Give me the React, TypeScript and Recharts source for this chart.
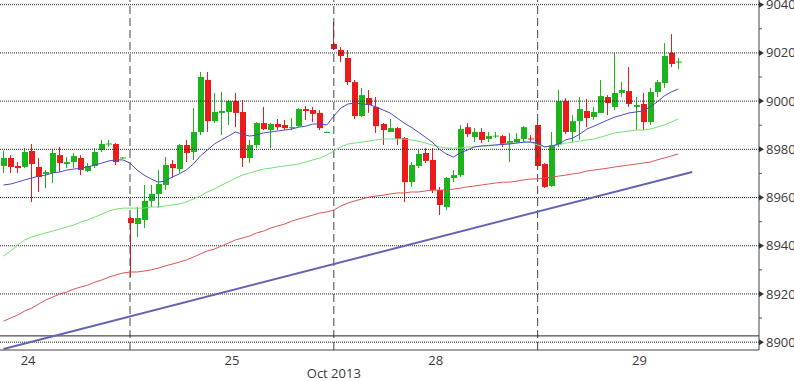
import React from 'react';
import { ComposedChart, Bar, Line, XAxis, YAxis, ReferenceLine } from 'recharts';

// hourly candles, 108 slots on the axis, the last ones are empty
const SLOTS = 108;

const OPEN = [
  8973.1, 8976.4, 8973.1, 8972.7, 8979.3, 8972.7, 8969.8, 8970.2, 8977.6, 8973.9,
  8974.7, 8976.4, 8971.0, 8973.1, 8979.7, 8982.2, 8982.2, 8976.4, 8951.5, 8949.0,
  8950.7, 8958.6, 8961.5, 8965.2, 8973.9, 8971.8, 8981.8, 8978.9, 8987.2, 9008.8,
  8991.7, 8995.1, 8995.5, 9000.0, 8995.5, 8976.4, 8981.8, 8990.9, 8988.0, 8990.5,
  8990.1, 8989.0, 8989.6, 8996.7, 8996.3, 8995.1, 8987.0, 9023.7, 9021.2, 9017.9,
  9007.9, 8993.8, 9001.3, 8997.6, 8990.5, 8987.2, 8988.8, 8984.7, 8966.4, 8973.1,
  8978.5, 8975.6, 8963.1, 8956.1, 8968.1, 8969.3, 8989.2, 8985.1, 8987.2, 8984.3,
  8985.5, 8985.5, 8982.2, 8983.0, 8984.3, 8984.5, 8990.1, 8973.9, 8964.8, 8982.2,
  9000.0, 8987.2, 8991.7, 8995.9, 8993.4, 8995.1, 9001.7, 8997.6, 9003.4, 9004.2,
  8997.6, 8998.8, 8991.3, 9003.8, 9007.5, 9020.0, 9016.2,
];
const HIGH = [
  8979.5, 8977.6, 8974.7, 8980.5, 8982.2, 8976.4, 8971.4, 8979.7, 8981.0, 8976.8,
  8978.5, 8977.6, 8974.3, 8980.5, 8983.9, 8983.9, 8982.6, 8976.8, 8952.0, 8956.1,
  8965.2, 8965.2, 8971.4, 8976.8, 8975.6, 8982.2, 8983.9, 8997.1, 9012.1, 9012.1,
  9003.4, 9003.8, 9000.5, 9003.4, 9000.5, 8983.9, 8991.3, 8997.6, 8990.9, 8992.6,
  8992.2, 8993.0, 8997.1, 8998.0, 8997.6, 8996.3, 8987.4, 9032.8, 9022.4, 9021.2,
  9008.8, 9005.5, 9004.6, 9001.7, 8990.9, 8992.6, 8989.2, 8985.1, 8974.7, 8979.7,
  8980.5, 8980.5, 8964.4, 8968.5, 8971.4, 8990.1, 8990.9, 8988.8, 8988.8, 8987.2,
  8987.2, 8985.9, 8986.8, 8986.8, 8989.6, 8985.9, 8991.3, 8974.3, 8987.2, 9004.6,
  9001.3, 8994.2, 9001.7, 9000.9, 8997.6, 9008.8, 9002.5, 9020.0, 9007.9, 9014.1,
  9001.7, 9003.4, 9005.5, 9008.8, 9024.1, 9027.8, 9017.9,
];
const LOW = [
  8970.2, 8970.2, 8970.2, 8972.2, 8958.1, 8962.3, 8963.9, 8966.0, 8970.6, 8972.2,
  8972.2, 8969.3, 8970.6, 8972.2, 8978.9, 8981.0, 8973.5, 8976.2, 8927.0, 8943.6,
  8947.3, 8956.1, 8955.6, 8963.1, 8968.1, 8970.2, 8974.7, 8975.6, 8985.9, 8987.2,
  8990.9, 8985.9, 8990.1, 8989.2, 8972.7, 8974.3, 8980.5, 8988.0, 8980.5, 8988.0,
  8988.0, 8988.0, 8989.2, 8992.2, 8991.3, 8988.0, 8986.8, 9021.2, 9016.2, 9006.7,
  8992.6, 8993.4, 8995.1, 8986.8, 8981.8, 8987.2, 8981.8, 8958.1, 8964.4, 8972.2,
  8974.3, 8961.9, 8952.7, 8954.8, 8966.4, 8968.5, 8985.1, 8983.0, 8982.6, 8983.0,
  8984.7, 8981.0, 8974.7, 8982.6, 8983.0, 8983.0, 8972.7, 8963.9, 8964.4, 8981.0,
  8986.3, 8983.0, 8983.9, 8989.2, 8992.2, 8995.1, 8994.2, 8996.3, 9001.7, 8997.6,
  8988.0, 8988.0, 8990.1, 9001.7, 9005.5, 9014.1, 9013.3,
];
const CLOSE = [
  8976.4, 8972.7, 8972.2, 8978.9, 8973.9, 8968.5, 8970.6, 8978.5, 8974.3, 8974.7,
  8977.2, 8971.4, 8973.1, 8978.9, 8982.2, 8982.4, 8974.7, 8976.6, 8949.4, 8951.5,
  8958.6, 8961.5, 8965.6, 8973.5, 8972.2, 8981.8, 8978.5, 8987.2, 9010.0, 8991.7,
  8995.5, 8995.9, 9000.0, 8995.1, 8976.4, 8981.8, 8990.9, 8988.4, 8990.5, 8989.2,
  8988.8, 8989.2, 8996.7, 8995.9, 8994.7, 8988.8, 8987.2, 9021.6, 9018.7, 9007.9,
  8993.8, 9002.5, 8998.4, 8989.6, 8988.0, 8988.8, 8984.3, 8966.4, 8973.5, 8978.1,
  8975.2, 8963.1, 8956.9, 8968.1, 8969.3, 8988.4, 8986.3, 8987.2, 8983.9, 8985.5,
  8985.7, 8982.2, 8983.4, 8984.3, 8989.2, 8984.3, 8973.1, 8964.4, 8981.8, 9000.0,
  8987.2, 8991.7, 8996.7, 8993.0, 8995.5, 9002.1, 8999.2, 9003.4, 9004.6, 8998.8,
  8998.4, 8991.3, 9003.8, 9007.9, 9018.7, 9015.4, 9016.4,
];

// moving averages
const MA_FAST = [
  8965.2, 8965.6, 8966.4, 8967.3, 8968.1, 8968.9, 8969.3, 8970.2, 8970.6, 8971.4,
  8971.8, 8972.2, 8972.7, 8973.5, 8974.3, 8975.2, 8975.6, 8975.6, 8974.3, 8971.4,
  8969.3, 8967.7, 8966.4, 8966.8, 8968.5, 8969.8, 8971.4, 8973.9, 8977.2, 8979.7,
  8982.2, 8983.9, 8985.5, 8987.2, 8986.3, 8985.5, 8985.9, 8986.8, 8987.2, 8987.6,
  8988.0, 8988.4, 8989.2, 8989.6, 8990.5, 8990.5, 8990.1, 8993.8, 8997.1, 8998.8,
  8999.2, 8998.8, 8998.6, 8997.6, 8996.3, 8995.1, 8993.0, 8990.9, 8989.2, 8987.2,
  8985.1, 8983.0, 8980.1, 8978.1, 8976.8, 8978.5, 8979.7, 8981.0, 8981.4, 8981.6,
  8981.8, 8982.0, 8982.2, 8982.6, 8983.0, 8983.0, 8982.6, 8981.0, 8981.4, 8982.2,
  8983.9, 8984.7, 8986.3, 8988.4, 8989.6, 8990.9, 8992.2, 8993.4, 8994.2, 8995.1,
  8995.5, 8995.9, 8997.6, 8999.6, 9002.1, 9003.8, 9005.0,
];
const MA_MID = [
  8935.7, 8937.8, 8940.3, 8942.4, 8943.6, 8944.5, 8945.3, 8946.1, 8946.9, 8947.8,
  8948.6, 8949.8, 8950.7, 8951.9, 8953.1, 8954.4, 8955.2, 8955.6, 8955.6, 8955.6,
  8955.6, 8956.1, 8956.1, 8956.5, 8956.9, 8957.3, 8958.1, 8959.4, 8960.6, 8962.3,
  8963.5, 8965.2, 8966.4, 8968.1, 8969.3, 8970.2, 8971.0, 8971.8, 8972.2, 8972.7,
  8973.1, 8973.5, 8973.9, 8974.7, 8975.6, 8976.4, 8977.6, 8979.3, 8981.0, 8982.2,
  8982.6, 8983.0, 8983.4, 8983.9, 8984.3, 8984.3, 8984.3, 8984.3, 8983.9, 8983.4,
  8982.6, 8981.8, 8981.0, 8980.5, 8980.5, 8980.5, 8981.0, 8981.0, 8981.4, 8981.4,
  8981.8, 8982.2, 8982.6, 8982.6, 8983.0, 8983.0, 8981.8, 8981.0, 8981.4, 8981.8,
  8982.6, 8983.0, 8983.4, 8983.9, 8984.3, 8985.1, 8985.9, 8986.8, 8987.2, 8987.6,
  8988.0, 8988.0, 8988.4, 8989.2, 8990.1, 8991.3, 8992.6,
];
const MA_SLOW = [
  8908.7, 8910.0, 8911.2, 8912.9, 8914.1, 8915.8, 8917.5, 8918.7, 8920.0, 8920.8,
  8922.0, 8922.9, 8923.7, 8924.9, 8925.8, 8927.0, 8927.9, 8928.7, 8929.1, 8929.1,
  8929.5, 8930.0, 8930.7, 8931.6, 8932.4, 8933.2, 8934.1, 8935.3, 8936.6, 8937.8,
  8938.6, 8939.9, 8941.1, 8942.4, 8943.2, 8944.0, 8945.3, 8946.1, 8947.3, 8948.2,
  8949.0, 8950.2, 8951.1, 8951.9, 8952.7, 8953.6, 8954.0, 8954.8, 8956.5, 8957.7,
  8958.6, 8959.4, 8960.2, 8960.6, 8961.0, 8961.5, 8961.9, 8961.9, 8962.3, 8962.3,
  8962.7, 8963.1, 8963.1, 8963.1, 8963.5, 8963.9, 8964.4, 8964.8, 8965.2, 8965.6,
  8966.0, 8966.4, 8966.4, 8966.8, 8967.3, 8967.7, 8967.7, 8968.1, 8968.5, 8968.9,
  8969.3, 8969.8, 8970.2, 8971.0, 8971.4, 8971.8, 8972.2, 8972.7, 8973.1, 8973.5,
  8973.9, 8974.3, 8974.7, 8975.6, 8976.4, 8977.2, 8978.1,
];

// hand-drawn trend line: two anchor points
const TREND_FROM = { i: 0, price: 8897.2 };
const TREND_TO = { i: 98, price: 8970.6 };
const SUPPORT_LEVEL = 8902.6;

const DAY_TICKS = [3, 32, 61, 90];
const DAY_LABELS = ['24', '25', '28', '29'];
const MONTH_TICK = 47;
const MONTH_LABEL = 'Oct 2013';
const DAY_SEPARATORS = [18, 47, 76];

const PRICE_GRID = [8900, 8920, 8940, 8960, 8980, 9000, 9020, 9040];
const PRICE_TICKS = [
  8900, 8910, 8920, 8930, 8940, 8950, 8960, 8970, 8980, 8990, 9000, 9010, 9020, 9030, 9040,
];
const PRICE_MIN = 8896.75;
const PRICE_MAX = 9041.95;

const W = 794;
const H = 381;
const AXIS_W = 35;
const AXIS_H = 31;
const STEP = (W - AXIS_W) / SLOTS;

const UP = '#1cb41c';
const DOWN = '#ec1a1a';
const TEXT = '#3a3a3a';
const FONT = '"Open Sans", sans-serif';

const data = Array.from({ length: SLOTS }, (_, i) => {
  const has = i < OPEN.length;
  return {
    i,
    open: has ? OPEN[i] : null,
    high: has ? HIGH[i] : null,
    low: has ? LOW[i] : null,
    close: has ? CLOSE[i] : null,
    range: has ? [LOW[i], HIGH[i]] : null,
    fast: MA_FAST[i] ?? null,
    mid: MA_MID[i] ?? null,
    slow: MA_SLOW[i] ?? null,
  };
});

const Candle = (props: any) => {
  const { x, y, width, height } = props;
  const d = props.payload ?? props;
  if (d.open == null || height == null) return null;
  const ratio = d.high === d.low ? 0 : height / (d.high - d.low);
  const py = (v: number) => y + (d.high - v) * ratio;
  const color = d.close >= d.open ? UP : DOWN;
  const left = Math.round(x + width / 2 - 3);
  const top = py(Math.max(d.open, d.close));
  const bottom = py(Math.min(d.open, d.close));
  return (
    <g>
      <line x1={left + 2.5} x2={left + 2.5} y1={y} y2={y + height} stroke={color} strokeWidth={1} />
      <rect x={left} y={top} width={6} height={Math.max(bottom - top, 1)} fill={color} />
    </g>
  );
};

const TimeTick = ({ x, y, payload }: any) => {
  if (payload.value === MONTH_TICK) {
    return (
      <text x={x} y={y + 28} textAnchor="middle" fontSize={13} fill={TEXT} fontFamily={FONT}>
        {MONTH_LABEL}
      </text>
    );
  }
  const k = DAY_TICKS.indexOf(payload.value);
  if (k < 0) return null;
  return (
    <text x={x + STEP / 2} y={y + 15} textAnchor="middle" fontSize={13} fill={TEXT} fontFamily={FONT}>
      {DAY_LABELS[k]}
    </text>
  );
};

const PriceTick = ({ x, y, payload }: any) => {
  const v = payload.value;
  if (v % 20 !== 0) {
    return <line x1={x} x2={x + 3} y1={y} y2={y} stroke="#555" />;
  }
  return (
    <g>
      <polygon points={`${x},${y - 3} ${x + 5},${y} ${x},${y + 3}`} fill="#333" />
      <text x={x + 7} y={y} dy="0.35em" fontSize={13} fill={TEXT} fontFamily={FONT}>
        {v}
      </text>
    </g>
  );
};

export default function App() {
  return (
    <div style={{ position: 'absolute', left: 0, top: 0, width: W, height: H, background: '#fff' }}>
      <ComposedChart width={W} height={H} data={data} margin={{ top: 0, right: 0, bottom: 0, left: 0 }}>
        <XAxis
          dataKey="i"
          height={AXIS_H}
          ticks={[...DAY_TICKS, MONTH_TICK]}
          interval={0}
          tick={<TimeTick />}
          tickLine={false}
          tickSize={0}
          tickMargin={0}
          axisLine={{ stroke: '#444' }}
        />
        <YAxis
          orientation="right"
          width={AXIS_W}
          type="number"
          domain={[PRICE_MIN, PRICE_MAX]}
          allowDataOverflow
          ticks={PRICE_TICKS}
          interval={0}
          tick={<PriceTick />}
          tickLine={false}
          tickSize={0}
          tickMargin={0}
          axisLine={{ stroke: '#444' }}
        />
        {PRICE_GRID.map((p) => (
          <ReferenceLine key={p} y={p} stroke="#222" strokeDasharray="1 1" />
        ))}
        {DAY_SEPARATORS.map((s) => (
          <ReferenceLine key={s} x={s} stroke="#444" strokeDasharray="8 4" />
        ))}
        <ReferenceLine y={SUPPORT_LEVEL} stroke="#222" />
        <ReferenceLine
          segment={[
            { x: TREND_FROM.i, y: TREND_FROM.price },
            { x: TREND_TO.i, y: TREND_TO.price },
          ]}
          stroke="#6464b4"
          strokeWidth={2}
        />
        <Line dataKey="slow" stroke="#e05454" strokeWidth={1} dot={false} activeDot={false} isAnimationActive={false} />
        <Line dataKey="mid" stroke="#74e274" strokeWidth={1} dot={false} activeDot={false} isAnimationActive={false} />
        <Line dataKey="fast" stroke="#4c4cc4" strokeWidth={1} dot={false} activeDot={false} isAnimationActive={false} />
        <Bar dataKey="range" barSize={6} shape={<Candle />} isAnimationActive={false} />
      </ComposedChart>
    </div>
  );
}
